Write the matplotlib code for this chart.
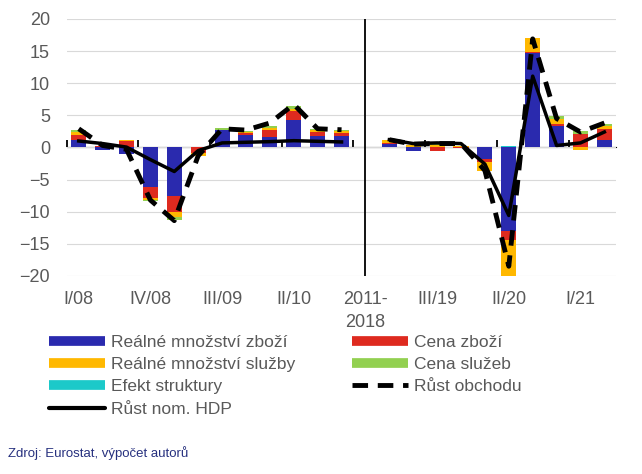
import matplotlib
matplotlib.use('Agg')
import matplotlib.pyplot as plt, numpy as np
from matplotlib.lines import Line2D

plt.rcParams['font.family'] = ['Liberation Sans', 'DejaVu Sans']

# Quarters, "2011-2018" is an empty slot with a divider line
quarters = ['I/08', 'II/08', 'III/08', 'IV/08', 'I/09', 'II/09', 'III/09', 'IV/09',
            'I/10', 'II/10', 'III/10', 'IV/10', '2011-\n2018',
            'I/19', 'II/19', 'III/19', 'IV/19', 'I/20', 'II/20', 'III/20', 'IV/20',
            'I/21', 'II/21']
nan = np.nan
goods_qty = [1.1, -0.35, -1.1, -6.1, -7.5, 0.1, 2.75, 1.9, 1.6, 4.2, 1.8, 1.7, nan,
             0.6, -0.5, 0.1, 0.1, -1.8, -13.0, 14.7, 3.3, 0.0, 1.1]
goods_price = [0.9, 0.15, 1.0, -1.7, -2.6, -0.9, 0.0, 0.3, 1.05, 1.5, 0.6, 0.5, nan,
               0.1, 0.0, -0.5, -0.1, -0.5, -1.4, 0.2, 0.3, 2.1, 1.7]
serv_qty = [0.4, 0.1, 0.1, -0.35, -0.75, -0.5, 0.0, 0.2, 0.45, 0.3, 0.25, 0.3, nan,
            0.4, 0.3, 0.2, 0.1, -1.3, -5.8, 2.1, 0.9, -0.4, 0.6]
serv_price = [0.25, 0.0, 0.0, -0.2, -0.45, 0.0, 0.25, 0.2, 0.25, 0.5, 0.15, 0.25, nan,
              0.0, 0.05, 0.3, 0.0, 0.0, 0.0, 0.0, 0.4, 0.4, 0.3]
structure = [0.0, 0.0, 0.0, 0.0, 0.0, 0.0, 0.0, 0.0, 0.0, 0.0, 0.0, 0.0, nan,
             0.0, 0.0, 0.0, 0.0, 0.0, 0.15, 0.0, 0.0, 0.0, 0.0]
trade = [2.9, 0.3, -0.3, -8.2, -11.4, -1.3, 2.9, 2.7, 3.8, 6.7, 2.9, 2.75, nan,
         1.2, 0.5, 0.6, 0.6, -3.6, -18.5, 16.9, 4.5, 2.4, 3.8]
gdp = [1.0, 0.6, 0.05, -1.9, -3.75, -0.5, 0.7, 0.8, 0.9, 1.05, 0.95, 0.85, nan,
       1.2, 0.6, 0.7, 0.6, -2.6, -10.6, 11.1, 0.3, 0.7, 2.4]

series = [('Reálné množství zboží', goods_qty, '#2A2AAE'),
          ('Cena zboží', goods_price, '#DE2A1F'),
          ('Reálné množství služby', serv_qty, '#FFB800'),
          ('Cena služeb', serv_price, '#92D050'),
          ('Efekt struktury', structure, '#1CC9C9')]

fig = plt.figure(figsize=(6.42, 4.74), dpi=100)
ax = fig.add_axes([0.104, 0.418, 0.856, 0.542])
x = np.arange(len(quarters))

pos = np.zeros(len(x))
neg = np.zeros(len(x))
for name, vals, col in series:
	v = np.nan_to_num(np.array(vals, dtype=float))
	bottom = np.where(v >= 0, pos, neg)
	ax.bar(x, v, 0.63, bottom=bottom, color=col, zorder=2)
	pos += np.where(v >= 0, v, 0)
	neg += np.where(v < 0, v, 0)

ax.plot(x, trade, color='black', lw=3.5, dashes=(3.2, 2), zorder=4)
ax.plot(x, gdp, color='black', lw=2.5, zorder=3)
ax.axvline(12, color='black', lw=1.3, zorder=3)

ax.set_xlim(-0.5, len(x) - 0.5)
ax.set_ylim(-20, 20)
ax.set_yticks(range(-20, 21, 5))
ax.yaxis.grid(True, color='#D9D9D9', lw=0.8, zorder=0)
ax.set_axisbelow(True)
for s in ax.spines.values(): s.set_visible(False)
ax.tick_params(axis='y', length=0, labelsize=13, labelcolor='#595959', pad=12)
ax.set_xticks(x[::3])
ax.set_xticklabels(quarters[::3])
ax.tick_params(axis='x', length=0, labelsize=13, labelcolor='#595959', pad=11)
for t in ax.get_xticklabels(): t.set_linespacing(1.45)

# zero axis with tick marks between categories
zero = ax.secondary_xaxis(0.5)
zero.set_xticks(np.arange(-0.5, len(x), 3))
zero.set_xticklabels([])
zero.tick_params(length=5, width=1.3, color='black', direction='out')
zero.spines['bottom'].set_linewidth(1.5)

def patch_line(col):
	return Line2D([], [], color=col, lw=7, solid_capstyle='butt')

handles = [patch_line(series[0][2]), patch_line(series[2][2]), patch_line(series[4][2]),
           Line2D([], [], color='black', lw=3, solid_capstyle='round'),
           patch_line(series[1][2]), patch_line(series[3][2]),
           Line2D([], [], color='black', lw=3.5, dashes=(3.2, 2))]
labels = [series[0][0], series[2][0], series[4][0], 'Růst nom. HDP',
          series[1][0], series[3][0], 'Růst obchodu']
fig.legend(handles, labels, loc='upper left', bbox_to_anchor=(0.052, 0.327), ncol=2,
           frameon=False, fontsize=12.5, handlelength=3.2, handletextpad=0.35,
           columnspacing=3.3, labelspacing=0.41, labelcolor='#595959')

fig.text(0.012, 0.044, 'Zdroj: Eurostat, výpočet autorů', fontsize=9.5, color='#26307E',
         va='center')

fig.savefig('out.png', dpi=100)
